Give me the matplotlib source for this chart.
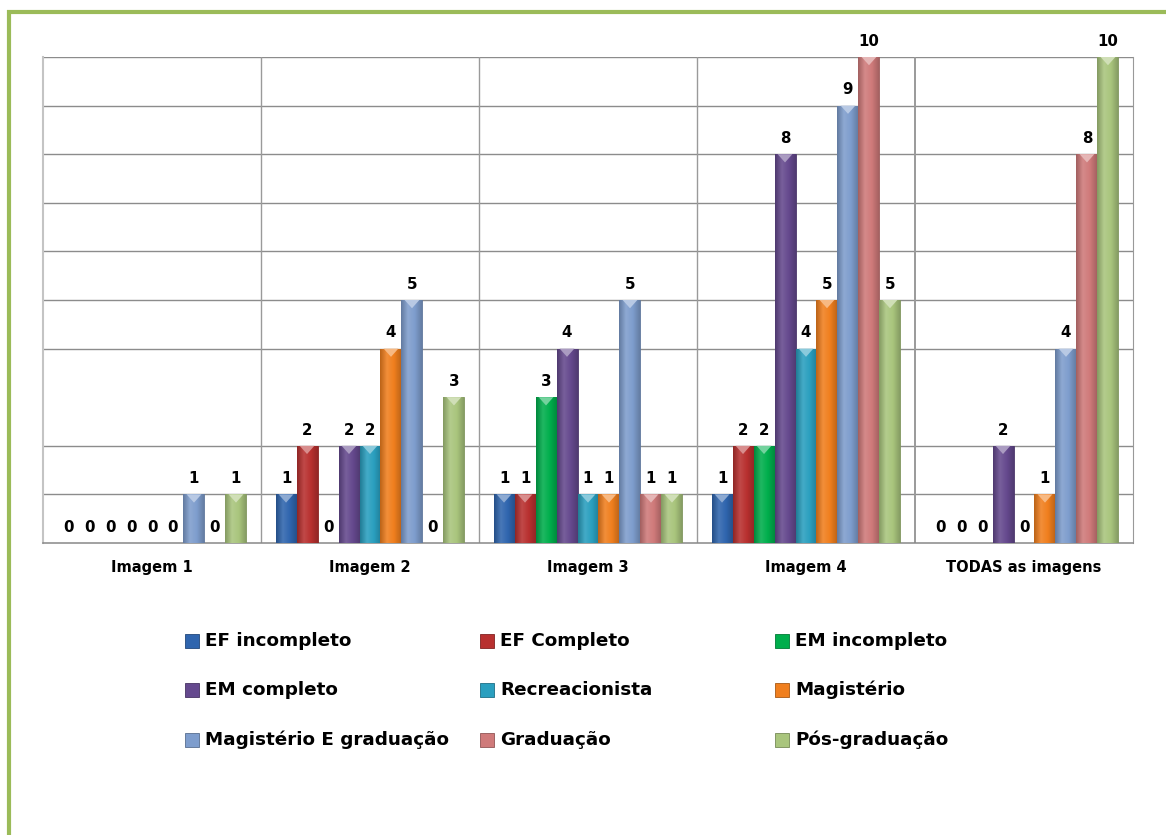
import numpy as np
import matplotlib
matplotlib.use("Agg")
import matplotlib.pyplot as plt
from matplotlib.colors import to_rgb, LinearSegmentedColormap
from matplotlib.patches import Rectangle, Polygon
from matplotlib.lines import Line2D

plt.rcParams["font.family"] = ["DejaVu Sans"]

categories = ["Imagem 1", "Imagem 2", "Imagem 3", "Imagem 4", "TODAS as imagens"]
series = ["EF incompleto", "EF Completo", "EM incompleto",
          "EM completo", "Recreacionista", "Magistério",
          "Magistério E graduação", "Graduação", "Pós-graduação"]
colors = ["#2F65AE", "#B8302F", "#00AE4C",
          "#65498E", "#2A9FBF", "#F07F1E",
          "#7E9DCD", "#CF7A7A", "#A9C57D"]

# rows = series, columns = categories
values = np.array([
    [0, 1, 1, 1, 0],   # EF incompleto
    [0, 2, 1, 2, 0],   # EF Completo
    [0, 0, 3, 2, 0],   # EM incompleto
    [0, 2, 4, 8, 2],   # EM completo
    [0, 2, 1, 4, 0],   # Recreacionista
    [0, 4, 1, 5, 1],   # Magistério
    [1, 5, 5, 9, 4],   # Magistério E graduação
    [0, 0, 1, 10, 8],  # Graduação
    [1, 3, 1, 5, 10],  # Pós-graduação
])

W, H = 1166, 835
fig = plt.figure(figsize=(W / 100, H / 100), dpi=100)
ax = fig.add_axes([43 / W, 1 - 543 / H, (1133 - 43) / W, (543 - 57) / H])

x = np.arange(len(categories))
bw = 0.0963
n = len(series)


def shade(c, f):
    r = np.array(to_rgb(c))
    if f < 1:
        return tuple(r * f)
    return tuple(r + (1 - r) * (f - 1))


for i, (name, col) in enumerate(zip(series, colors)):
    pos = x + (i - (n - 1) / 2) * bw
    bars = ax.bar(pos, values[i], width=bw, color=col, edgecolor=shade(col, 0.75),
                  linewidth=0.6, zorder=3)
    cmap = LinearSegmentedColormap.from_list(
        "g", [shade(col, 0.78), shade(col, 1.12), shade(col, 1.0), shade(col, 0.8)])
    grad = np.linspace(0, 1, 64).reshape(1, -1)
    for b in bars:
        h = b.get_height()
        if h <= 0:
            continue
        x0, x1 = b.get_x(), b.get_x() + b.get_width()
        im = ax.imshow(grad, cmap=cmap, aspect="auto", zorder=3.5,
                       extent=[x0, x1, 0, h])
        im.set_clip_path(b)
        # small bevel highlight at the top of each bar
        ax.add_patch(Polygon([[x0 + 0.15 * (x1 - x0), h], [x1 - 0.15 * (x1 - x0), h],
                              [(x0 + x1) / 2, h - 0.17]], closed=True,
                             facecolor=shade(col, 1.45), edgecolor="none", zorder=3.6))
    for p, v in zip(pos, values[i]):
        ax.annotate(str(v), (p, v), xytext=(0, 8), textcoords="offset points",
                    ha="center", va="baseline", fontsize=10.8, fontweight="bold",
                    color="black", zorder=5)

ax.set_xlim(-0.5, len(categories) - 0.5)
ax.set_ylim(0, 10)

# horizontal gridlines (the line at 3 is missing in the original)
for yv in [1, 2, 4, 5, 6, 7, 8, 9, 10]:
    ax.axhline(yv, color="#8C8C8C", lw=1.0, zorder=1)
for xv in np.arange(0.5, len(categories) - 0.5, 1.0):
    ax.axvline(xv, color="#9A9A9A", lw=1.4 if xv == 3.5 else 1.0, zorder=1)

ax.set_yticks([])
ax.set_xticks(x)
ax.set_xticklabels(categories, fontsize=10.5, fontweight="bold")
ax.tick_params(axis="x", length=0, pad=12)
ax.spines["top"].set_visible(False)
ax.spines["left"].set_color("#C4C4C4")
ax.spines["left"].set_linewidth(1.5)
ax.spines["right"].set_color("#999999")
ax.spines["bottom"].set_color("#888888")
ax.spines["bottom"].set_linewidth(1.1)

# legend, 3 x 3 with evenly spaced columns
col_x = [185, 480, 775]
row_y = [641, 690, 740]
for i, (name, col) in enumerate(zip(series, colors)):
    cx = col_x[i % 3]
    cy = row_y[i // 3]
    fig.add_artist(Rectangle((cx / W, 1 - (cy + 7) / H), 14 / W, 14 / H,
                             transform=fig.transFigure, facecolor=col,
                             edgecolor=shade(col, 0.7), linewidth=0.6))
    fig.text((cx + 20) / W, 1 - cy / H, name, fontsize=13.2, fontweight="bold",
             va="center", ha="left")

# green frame
green = "#9BBB59"
fig.add_artist(Line2D([8.5 / W, 8.5 / W], [0, 1 - 10 / H], color=green, lw=3,
                      transform=fig.transFigure, solid_capstyle="butt"))
fig.add_artist(Line2D([6.5 / W, 1], [1 - 12 / H, 1 - 12 / H], color=green, lw=3,
                      transform=fig.transFigure, solid_capstyle="butt"))

fig.savefig("out.png", dpi=100)
